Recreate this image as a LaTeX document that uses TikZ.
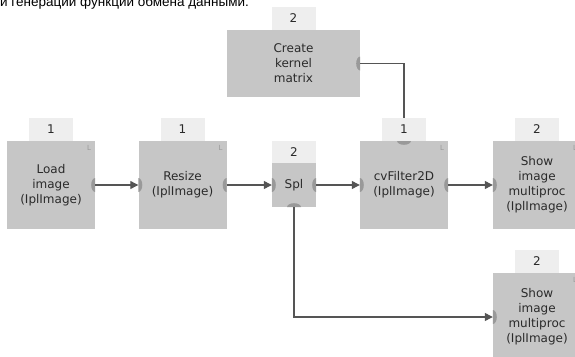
\documentclass[tikz,border=0pt]{standalone}
\usepackage{fontspec}
\setmainfont{DejaVu Sans}
\newfontfamily\headfont{Liberation Sans}
\usetikzlibrary{positioning,arrows.meta}

\definecolor{blockgray}{HTML}{C6C6C6}
\definecolor{tabgray}{HTML}{EEEEEE}
\definecolor{portgray}{HTML}{999999}
\definecolor{wiregray}{HTML}{555555}
\definecolor{textgray}{HTML}{2A2A2A}

\tikzset{
  block/.style={fill=blockgray, minimum width=88pt, minimum height=88pt, inner sep=0pt,
    align=center, text=textgray, font=\fontsize{12}{15}\selectfont},
  tab/.style={fill=tabgray, minimum width=44pt, minimum height=23pt, inner sep=0pt,
    text=textgray, font=\fontsize{12}{15}\selectfont},
  corner/.style={text=gray!80, font=\fontsize{7}{7}\selectfont, inner xsep=4pt, inner ysep=4pt},
  port/.style={fill=portgray},
  wire/.style={draw=wiregray, line width=1.2pt},
  flow/.style={wire, -{Triangle[length=8pt,width=8pt]}},
}

\begin{document}
\begin{tikzpicture}[x=1pt, y=1pt]
  \clip (0,0) rectangle (575,-356);
  \node[anchor=base west, inner sep=0pt, font=\headfont\fontsize{13.5}{16}\selectfont] (intro) at (0,-6)
    {и генерации функции обмена данными.};

  \node[block, label={[corner, anchor=north east, name=loadL]north east:L}] (load) at (51,-185) {Load\\image\\(IplImage)};
  \node[block, label={[corner, anchor=north east, name=resizeL]north east:L}] (resize) at (182.5,-185) {Resize\\(IplImage)};
  \node[block, minimum width=44pt, minimum height=44pt] (spl) at (294,-185) {Spl};
  \node[block, label={[corner, anchor=north east, name=filterL]north east:L}] (filter) at (404,-185) {cvFilter2D\\(IplImage)};
  \node[block, label={[corner, anchor=north east, name=showAL]north east:L}] (showA) at (537,-185) {Show\\image\\multiproc\\(IplImage)};
  \node[block, minimum width=133pt, minimum height=67pt] (kernel) at (293.5,-63.5) {Create\\kernel\\matrix};
  \node[block, label={[corner, anchor=north east, name=showBL]north east:L}] (showB) at (537,-317) {Show\\image\\multiproc\\(IplImage)};

  % ports
  \fill[port] (load.east) ++(0,7) arc[start angle=90, end angle=270, x radius=4, y radius=7] -- cycle;
  \fill[port] (resize.west) ++(0,7) arc[start angle=90, end angle=-90, x radius=4, y radius=7] -- cycle;
  \fill[port] (resize.east) ++(0,7) arc[start angle=90, end angle=270, x radius=4, y radius=7] -- cycle;
  \fill[port] (spl.west) ++(0,7) arc[start angle=90, end angle=-90, x radius=4, y radius=7] -- cycle;
  \fill[port] (spl.east) ++(0,7) arc[start angle=90, end angle=270, x radius=4, y radius=7] -- cycle;
  \fill[port] (spl.south) ++(-7,0) arc[start angle=180, end angle=0, x radius=7, y radius=4] -- cycle;
  \fill[port] (filter.west) ++(0,7) arc[start angle=90, end angle=-90, x radius=4, y radius=7] -- cycle;
  \fill[port] (filter.east) ++(0,7) arc[start angle=90, end angle=270, x radius=4, y radius=7] -- cycle;
  \fill[port] (filter.north) ++(-7,0) arc[start angle=180, end angle=360, x radius=7, y radius=4] -- cycle;
  \fill[port] (showA.west) ++(0,7) arc[start angle=90, end angle=-90, x radius=4, y radius=7] -- cycle;
  \fill[port] (kernel.east) ++(0,7) arc[start angle=90, end angle=270, x radius=4, y radius=7] -- cycle;
  \fill[port] (showB.west) ++(0,7) arc[start angle=90, end angle=-90, x radius=4, y radius=7] -- cycle;

  \draw[flow] (load.east) -- (resize.west);
  \draw[flow] (resize.east) -- (spl.west);
  \draw[flow] (spl.east) -- (filter.west);
  \draw[flow] (filter.east) -- (showA.west);
  \draw[wire] (kernel.east) -| (filter.north);
  \draw[flow] (spl.south) |- (showB.west);

  % thread count tabs
  \node[tab, above=0pt of load] (loadT) {1};
  \node[tab, above=0pt of resize] (resizeT) {1};
  \node[tab, minimum height=22pt, above=0pt of spl] (splT) {2};
  \node[tab, above=0pt of filter] (filterT) {1};
  \node[tab, above=0pt of showA] (showAT) {2};
  \node[tab, above=0pt of kernel] (kernelT) {2};
  \node[tab, above=0pt of showB] (showBT) {2};
\end{tikzpicture}
\end{document}
